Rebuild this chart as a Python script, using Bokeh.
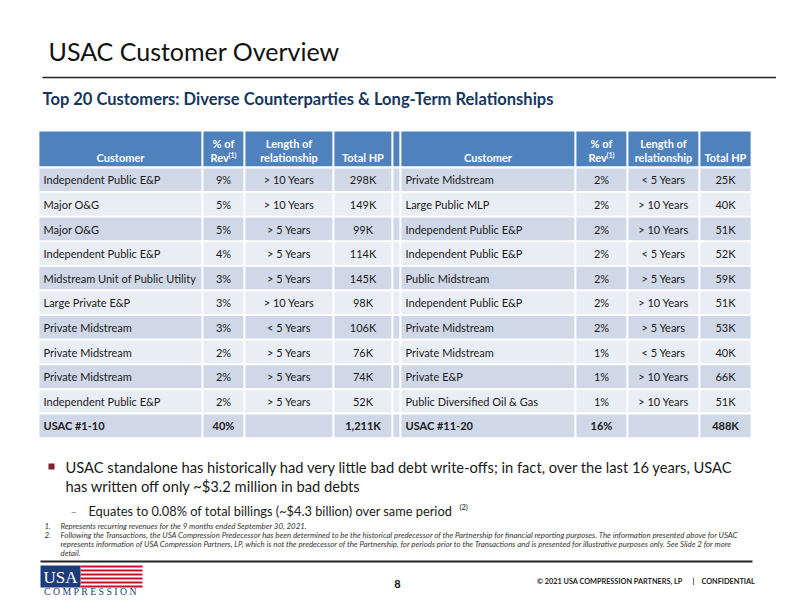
from bokeh.plotting import figure
from bokeh.models import Range1d, ColumnDataSource
from bokeh.core.properties import value
from bokeh.embed import file_html
from bokeh.resources import INLINE

# ---------------- data ----------------
header_cols = ["Customer", "% of", "Length of", "Total HP"]
left_customers = ["Independent Public E&P", "Major O&G", "Major O&G", "Independent Public E&P",
                  "Midstream Unit of Public Utility", "Large Private E&P", "Private Midstream",
                  "Private Midstream", "Private Midstream", "Independent Public E&P"]
left_pct = [9, 5, 5, 4, 3, 3, 3, 2, 2, 2]
left_len = ["> 10 Years", "> 10 Years", "> 5 Years", "> 5 Years", "> 5 Years", "> 10 Years",
            "< 5 Years", "> 5 Years", "> 5 Years", "> 5 Years"]
left_hp = [298, 149, 99, 114, 145, 98, 106, 76, 74, 52]
left_total = ["USAC #1-10", "40%", "", "1,211K"]

right_customers = ["Private Midstream", "Large Public MLP", "Independent Public E&P",
                   "Independent Public E&P", "Public Midstream", "Independent Public E&P",
                   "Private Midstream", "Private Midstream", "Private E&P",
                   "Public Diversified Oil & Gas"]
right_pct = [2, 2, 2, 2, 2, 2, 2, 1, 1, 1]
right_len = ["< 5 Years", "> 10 Years", "> 10 Years", "< 5 Years", "> 5 Years", "> 10 Years",
             "> 5 Years", "< 5 Years", "> 10 Years", "> 10 Years"]
right_hp = [25, 40, 51, 52, 59, 51, 53, 40, 66, 51]
right_total = ["USAC #11-20", "16%", "", "488K"]

title = "USAC Customer Overview"
subtitle = "Top 20 Customers: Diverse Counterparties & Long-Term Relationships"
bullet_lines = ["USAC standalone has historically had very little bad debt write-offs; in fact, over the last 16 years, USAC",
                "has written off only ~$3.2 million in bad debts"]
sub_bullet = "Equates to 0.08% of total billings (~$4.3 billion) over same period"
footnotes = [("1.", ["Represents recurring revenues for the 9 months ended September 30, 2021."]),
             ("2.", ["Following the Transactions, the USA Compression Predecessor has been determined to be the historical predecessor of the Partnership for financial reporting purposes. The information presented above for USAC",
                     "represents information of USA Compression Partners, LP, which is not the predecessor of the Partnership, for periods prior to the Transactions and is presented for illustrative purposes only. See Slide 2 for more",
                     "detail."])]
page_number = "8"
copyright_main = "\u00a9 2021 USA COMPRESSION PARTNERS, LP"
copyright_conf = "CONFIDENTIAL"

# ---------------- styling / layout ----------------
FONT = "Lato"
HEAD_BLUE = "#4F81BD"
BAND1 = "#D0D8E8"
BAND2 = "#E9EDF4"
NAVY = "#17365D"
TXT = "#1a1a1a"

W, H = 776, 596
p = figure(width=W, height=H, x_range=Range1d(0, 776), y_range=Range1d(596, 0),
           output_backend="svg", toolbar_location=None, x_axis_type=None, y_axis_type=None,
           min_border=0)
p.outline_line_color = None
p.background_fill_color = "white"
p.border_fill_color = "white"


def txt(x, y, t, size, color=TXT, align="left", baseline="middle", style="normal", font=FONT):
    p.text(x=[x], y=[y], text=[t], text_font=value(font), text_font_size=f"{size}px",
           text_color=color, text_align=align, text_baseline=baseline, text_font_style=style)


# Title
txt(48, 50, title, 25, color="#111111")
p.line(x=[42, 782], y=[77, 77], line_color="#222222", line_width=1.6)
txt(42, 98, subtitle, 16.5, color=NAVY, style="bold")

# Table geometry
left_edges = [38, 202, 244, 333, 392]
spacer = [392, 400]
right_edges = [400, 575, 627, 699, 751]
head_top, head_bot = 130, 167
row_h = 24.6
n_rows = 11

# cell backgrounds
qx0, qx1, qy0, qy1, qc = [], [], [], [], []
all_cols = [(left_edges[i], left_edges[i + 1]) for i in range(4)] + [tuple(spacer)] + \
           [(right_edges[i], right_edges[i + 1]) for i in range(4)]
for (a, b) in all_cols:
    qx0.append(a); qx1.append(b); qy0.append(head_top); qy1.append(head_bot); qc.append(HEAD_BLUE)
    for r in range(n_rows):
        qx0.append(a); qx1.append(b)
        qy0.append(head_bot + r * row_h); qy1.append(head_bot + (r + 1) * row_h)
        qc.append(BAND1 if r % 2 == 0 else BAND2)
p.quad(left=qx0, right=qx1, top=qy0, bottom=qy1, fill_color=qc, line_color="white", line_width=1.8)


def table(edges, customers, pct, lens, hps, total):
    centers = [(edges[i] + edges[i + 1]) / 2 for i in range(4)]
    # header
    hy2, hy1 = 157, 143
    txt(centers[0], hy2, header_cols[0], 11, color="white", align="center", style="bold")
    txt(centers[1], hy1, header_cols[1], 11, color="white", align="center", style="bold")
    txt(centers[1] - 13, hy2, "Rev", 11, color="white", align="left", style="bold")
    txt(centers[1] + 5, hy2 - 3, "(1)", 7, color="white", align="left", style="bold")
    txt(centers[2], hy1, header_cols[2], 11, color="white", align="center", style="bold")
    txt(centers[2], hy2, "relationship", 11, color="white", align="center", style="bold")
    txt(centers[3], hy2, header_cols[3], 11, color="white", align="center", style="bold")
    # body
    ys = [head_bot + (r + 0.5) * row_h for r in range(n_rows)]
    xs_c = [edges[0] + 5] * 10
    src = ColumnDataSource(dict(x=xs_c, y=ys[:10], t=customers))
    p.text(x="x", y="y", text="t", source=src, text_font=value(FONT), text_font_size="11px",
           text_color=TXT, text_baseline="middle", text_align="left")
    for ci, vals in [(1, [f"{v}%" for v in pct]), (2, lens), (3, [f"{v}K" for v in hps])]:
        src = ColumnDataSource(dict(x=[centers[ci]] * 10, y=ys[:10], t=vals))
        p.text(x="x", y="y", text="t", source=src, text_font=value(FONT), text_font_size="11px",
               text_color=TXT, text_baseline="middle", text_align="center")
    # total row
    txt(edges[0] + 5, ys[10], total[0], 11, style="bold")
    for ci in (1, 2, 3):
        if total[ci]:
            txt(centers[ci], ys[10], total[ci], 11, align="center", style="bold")


table(left_edges, left_customers, left_pct, left_len, left_hp, left_total)
table(right_edges, right_customers, right_pct, right_len, right_hp, right_total)

# Bullets
p.rect(x=[51], y=[466], width=6, height=6, fill_color="#7F1F2E", line_color=None)
txt(65, 466, bullet_lines[0], 14.7, color="#1a1a1a")
txt(65, 485, bullet_lines[1], 14.7, color="#1a1a1a")
txt(70, 511, "\u2013", 11, color="#B07A84")
txt(88, 510, sub_bullet, 12.8, color="#1a1a1a")
txt(459, 507, "(2)", 7.5, color="#1a1a1a")

# Footnotes
fy = 525
for num, lines in footnotes:
    txt(44, fy, num, 7.85, color="#333333", style="italic")
    for ln in lines:
        txt(60, fy, ln, 7.85, color="#333333", style="italic")
        fy += 9.3

# Footer line
p.line(x=[40, 752], y=[561, 561], line_color="#222222", line_width=2.2)

# Logo
p.quad(left=[40], right=[80], top=[565], bottom=[587], fill_color="#1E3C7B", line_color=None)
stripe_y = [565, 569, 573, 577, 581, 585]
p.quad(left=[80] * 6, right=[142] * 6, top=stripe_y, bottom=[y + 2 for y in stripe_y],
       fill_color="#C8102E", line_color=None)
txt(60, 577, "USA", 17, color="white", align="center", font="Liberation Serif")
txt(90, 591, "C O M P R E S S I O N", 9.8, color="#1E3C7B", align="center", font="Liberation Serif")

# Page number & copyright
txt(397, 583, page_number, 11, color="#111111", align="center", style="bold")
txt(682, 581, copyright_main, 7.3, color="#222222", align="right", style="bold")
txt(693, 581, "|", 7.3, color="#222222", align="center", style="bold")
txt(701, 581, copyright_conf, 7.3, color="#222222", align="left", style="bold")

open("out.html", "w").write(file_html(p, INLINE))
